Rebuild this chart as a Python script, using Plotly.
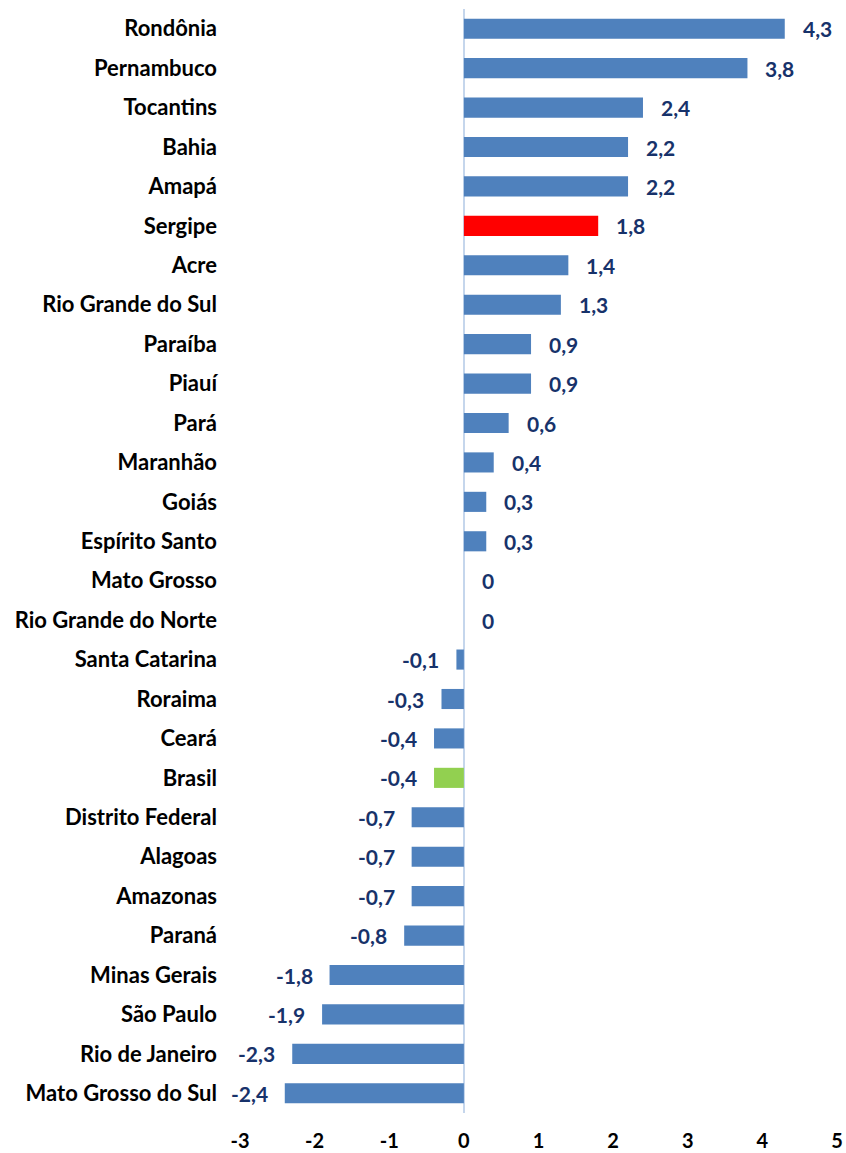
import plotly.graph_objects as go

states = ["Rondônia", "Pernambuco", "Tocantins", "Bahia", "Amapá", "Sergipe", "Acre",
          "Rio Grande do Sul", "Paraíba", "Piauí", "Pará", "Maranhão", "Goiás",
          "Espírito Santo", "Mato Grosso", "Rio Grande do Norte", "Santa Catarina",
          "Roraima", "Ceará", "Brasil", "Distrito Federal", "Alagoas", "Amazonas",
          "Paraná", "Minas Gerais", "São Paulo", "Rio de Janeiro", "Mato Grosso do Sul"]
values = [4.3, 3.8, 2.4, 2.2, 2.2, 1.8, 1.4, 1.3, 0.9, 0.9, 0.6, 0.4, 0.3, 0.3, 0, 0,
          -0.1, -0.3, -0.4, -0.4, -0.7, -0.7, -0.7, -0.8, -1.8, -1.9, -2.3, -2.4]
x_ticks = [-3, -2, -1, 0, 1, 2, 3, 4, 5]

BLUE = "#4F81BD"
colors = ["#FF0000" if s == "Sergipe" else "#92D050" if s == "Brasil" else BLUE for s in states]
FONT = "Lato, Open Sans, sans-serif"

def fmt(v):
    if v == 0:
        return "0"
    return f"{v:.1f}".replace(".", ",")

fig = go.Figure()
fig.add_trace(go.Bar(
    y=states, x=values, orientation="h", marker=dict(color=colors, line=dict(width=0)),
    width=0.51, hoverinfo="skip"))

annotations = []
for s, v in zip(states, values):
    annotations.append(dict(
        x=v, y=s, xref="x", yref="y", text=fmt(v), showarrow=False,
        xanchor="right" if v < 0 else "left",
        xshift=-15 if v < 0 else 16,
        font=dict(family=FONT, size=21, color="#17326A", weight="bold")))

fig.update_layout(
    width=852, height=1161,
    margin=dict(l=240, r=10, t=9, b=41),
    paper_bgcolor="white", plot_bgcolor="white",
    showlegend=False,
    annotations=annotations,
    font=dict(family=FONT),
    xaxis=dict(range=[-3, 5], tickvals=x_ticks, ticktext=[str(t) for t in x_ticks],
               showgrid=False, zeroline=True, zerolinecolor="#C5D6EC", zerolinewidth=1.5,
               showline=False, ticks="", ticklabelstandoff=14,
               tickfont=dict(family=FONT, size=20, color="black", weight="bold")),
    yaxis=dict(autorange="reversed", showgrid=False, showline=False, ticks="",
               ticklabelstandoff=22,
               tickfont=dict(family=FONT, size=22, color="black", weight="bold")),
)

fig.write_html("out.html", config={"displayModeBar": False},
               post_script="document.body.style.margin='0';document.body.style.overflow='hidden';")
